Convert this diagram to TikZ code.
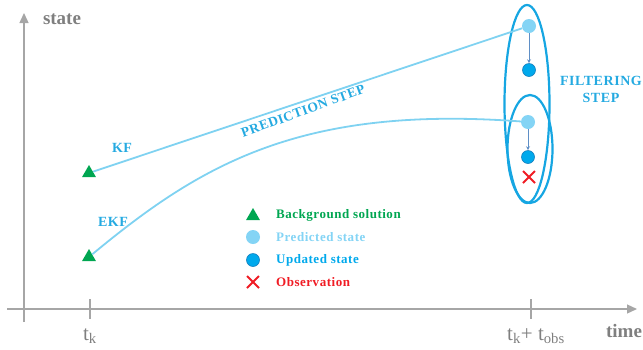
\documentclass[tikz,border=0pt]{standalone}
\usepackage{fontspec}
\setmainfont{Liberation Serif}
\newfontfamily\spaced[LetterSpace=4]{Liberation Serif}
\usetikzlibrary{positioning, shapes.geometric, shapes.misc, arrows.meta}
\definecolor{axisgray}{HTML}{A6A6A6}
\definecolor{textgray}{HTML}{7F7F7F}
\definecolor{solgreen}{HTML}{00A651}
\definecolor{predblue}{HTML}{84D4F5}
\definecolor{updblue}{HTML}{00A9EC}
\definecolor{updrim}{HTML}{1580BE}
\definecolor{ellblue}{HTML}{16A6E2}
\definecolor{trajblue}{HTML}{7FD2F1}
\definecolor{arrowblue}{HTML}{5F8FC6}
\definecolor{labblue}{HTML}{25AAE1}
\definecolor{obsred}{HTML}{F01C24}

\begin{document}
\begin{tikzpicture}[x=1pt, y=-1pt, node distance=9pt,
  axis/.style={draw=axisgray, line width=1.3pt},
  tickmark/.style={draw=axisgray, line width=1.2pt},
  axlabel/.style={text=textgray, font=\fontsize{19}{21}\selectfont\bfseries},
  ticklabel/.style={text=textgray, font=\fontsize{21}{23}\selectfont},
  bgsol/.style={regular polygon, regular polygon sides=3, fill=solgreen, minimum size=16pt, inner sep=0pt},
  predst/.style={circle, fill=predblue, minimum size=14pt, inner sep=0pt},
  updst/.style={circle, fill=updblue, draw=updrim, line width=0.6pt, minimum size=13pt, inner sep=0pt},
  obs/.style={cross out, draw=obsred, line width=2pt, minimum size=10pt, inner sep=0pt},
  filt/.style={ellipse, draw=ellblue, line width=2.2pt, minimum width=45pt, inner sep=0pt},
  traj/.style={draw=trajblue, line width=1.8pt},
  updarrow/.style={draw=arrowblue, line width=0.7pt, -{Stealth[length=4pt,width=4pt]}},
  tag/.style={text=labblue, font=\spaced\fontsize{14}{16}\selectfont\bfseries},
  steptag/.style={text=labblue, align=center, font=\spaced\fontsize{14}{17}\selectfont\bfseries},
  legtext/.style={anchor=west, inner sep=0pt, font=\spaced\fontsize{13}{15}\selectfont\bfseries}]
\useasboundingbox (0,0) rectangle (643,349);
% Ejes
\coordinate (xstart) at (7,309);
\coordinate (xend) at (637,309);
\coordinate (ystart) at (24,322);
\coordinate (yend) at (24,13);
\draw[axis, -{Triangle[length=10pt,width=9pt]}] (xstart) -- (xend);
\draw[axis, -{Triangle[length=10pt,width=9pt]}] (ystart) -- (yend);
\node[axlabel] (state) at (62,19) {state};
\node[axlabel] (time) at (624,331) {time};
\coordinate (ttk) at (90,309);
\coordinate (ttobs) at (531,309);
\draw[tickmark] ([yshift=10pt]ttk) -- ([yshift=-10pt]ttk);
\draw[tickmark] ([yshift=10pt]ttobs) -- ([yshift=-10pt]ttobs);
\node[ticklabel] (tk) at (90,336) {t\textsubscript{k}};
\node[ticklabel] (tobs) at (536,336) {t\textsubscript{k}+ t\textsubscript{obs}};
% Paso de filtrado
\node[filt, minimum height=198pt] (bigell) at (527,104) {};
\node[filt, minimum height=108pt] (smallell) at (530,149) {};
\node[predst] (predkf) at (529,26) {};
\node[updst] (updkf) at (529,70) {};
\node[predst] (predekf) at (528,122) {};
\node[updst] (updekf) at (528,157) {};
\node[obs] (obsx) at (529,177) {};
\node[steptag] (filtstep) at (601,89) {FILTERING\\STEP};
% Paso de prediccion
\node[bgsol] (bgkf) at (89,173) {};
\node[bgsol] (bgekf) at (89,257) {};
\draw[traj] (bgkf) -- (predkf);
\draw[traj] (bgekf) .. controls (200,165) and (300,105) .. (predekf);
\draw[updarrow] (predkf) -- (updkf);
\draw[updarrow] (predekf) -- (updekf);
\node[tag] (kf) at (122,148) {KF};
\node[tag] (ekf) at (113,222) {EKF};
\node[tag, font=\spaced\fontsize{13.5}{15}\selectfont\bfseries, rotate=20] (predstep) at (303,111) {PREDICTION STEP};
% Leyenda
\node[bgsol] (legbg) at (253,216) {};
\node[predst] (legpred) at (253,237) {};
\node[updst] (legupd) at (253,260) {};
\node[obs] (legobs) at (253,282) {};
\node[legtext, text=solgreen] at (276,215) (txtbg) {Background solution};
\node[legtext, text=predblue] at (276,237) (txtpred) {Predicted state};
\node[legtext, text=updblue] at (276,260) (txtupd) {Updated state};
\node[legtext, text=obsred] at (276,282) (txtobs) {Observation};
\end{tikzpicture}
\end{document}
